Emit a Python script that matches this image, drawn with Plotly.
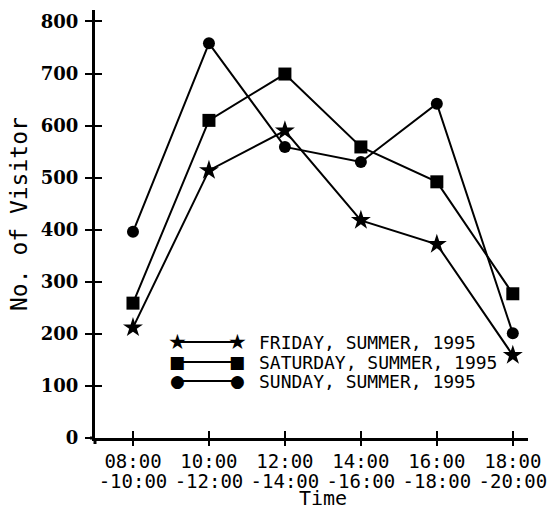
import plotly.graph_objects as go

# ---- data ----
start_times = ["08:00", "10:00", "12:00", "14:00", "16:00", "18:00"]
end_times = ["-10:00", "-12:00", "-14:00", "-16:00", "-18:00", "-20:00"]
categories = [s + e for s, e in zip(start_times, end_times)]

friday = [212, 514, 590, 418, 372, 159]
saturday = [259, 610, 699, 559, 492, 277]
sunday = [396, 758, 559, 530, 642, 201]

series_names = ["FRIDAY, SUMMER, 1995", "SATURDAY, SUMMER, 1995", "SUNDAY, SUMMER, 1995"]
y_ticks = [0, 100, 200, 300, 400, 500, 600, 700, 800]

W, H = 557, 508
L, R, T, B = 95, 29, 10, 70
PW, PH = W - L - R, H - T - B


def px_x(px):
    return (px - L) / PW


def px_y(py):
    return (H - B - py) / PH


fig = go.Figure()

symbols = ["star", "square", "circle"]
sizes = [15, 13, 12]
for name, vals, sym, sz in zip(series_names, [friday, saturday, sunday], symbols, sizes):
    fig.add_trace(go.Scatter(
        x=categories, y=vals, mode="lines+markers", name=name,
        line=dict(color="black", width=2),
        marker=dict(symbol=sym, size=sz, color="black", line=dict(width=0)),
        showlegend=False,
    ))

mono = "DejaVu Sans Mono"
xr = [-0.5, 5.2]
yr = [0, 822]

fig.update_layout(
    width=W, height=H,
    margin=dict(l=L, r=R, t=T, b=B, autoexpand=False),
    paper_bgcolor="white", plot_bgcolor="white",
    showlegend=False,
    xaxis=dict(
        type="category", range=xr, automargin=False,
        tickvals=categories, ticktext=start_times,
        showline=True, linecolor="black", linewidth=3,
        ticks="inside", ticklen=7, tickwidth=2, tickcolor="black",
        showgrid=False, zeroline=False,
        tickfont=dict(family=mono, size=19, color="black"),
        ticklabelstandoff=4,
    ),
    xaxis2=dict(
        overlaying="x", anchor="y", side="bottom", type="linear", range=xr,
        automargin=False,
        tickvals=list(range(len(end_times))), ticktext=end_times,
        ticks="outside", ticklen=7, tickwidth=2, tickcolor="black",
        showline=False, showgrid=False, zeroline=False,
        tickfont=dict(family=mono, size=19, color="black"),
        ticklabelstandoff=19,
    ),
    yaxis=dict(
        range=yr, tickvals=y_ticks, automargin=False,
        showline=True, linecolor="black", linewidth=3,
        ticks="outside", ticklen=7, tickwidth=2, tickcolor="black",
        showgrid=False, zeroline=False,
        tickfont=dict(family="DejaVu Serif", size=18, color="black", weight="bold"),
        ticklabelstandoff=3,
    ),
    yaxis2=dict(
        overlaying="y", anchor="x", side="left", range=yr, tickvals=y_ticks,
        automargin=False,
        ticks="inside", ticklen=7, tickwidth=2, tickcolor="black",
        showticklabels=False, showline=False, showgrid=False, zeroline=False,
    ),
)

# invisible trace to activate secondary axes
fig.add_trace(go.Scatter(x=[None], y=[None], xaxis="x2", yaxis="y2", showlegend=False, hoverinfo="skip"))

annotations = []
shapes = []

# axis titles
annotations.append(dict(text="No. of Visitor", xref="paper", yref="paper",
                        x=px_x(19), y=px_y(214), textangle=-90, showarrow=False,
                        font=dict(family=mono, size=23, color="black"),
                        xanchor="center", yanchor="middle"))
annotations.append(dict(text="Time", xref="paper", yref="paper",
                        x=px_x(323), y=px_y(498), showarrow=False,
                        font=dict(family=mono, size=20, color="black"),
                        xanchor="center", yanchor="middle"))

# axis extensions
shapes.append(dict(type="line", xref="paper", yref="paper", x0=0, x1=0,
                   y0=0, y1=px_y(444), line=dict(color="black", width=3)))
shapes.append(dict(type="line", xref="paper", yref="paper", x0=px_x(90), x1=0,
                   y0=0, y1=0, line=dict(color="black", width=3)))

# custom legend
glyphs = ["\u2605", "\u25A0", "\u25CF"]
glyph_sizes = [21, 17, 17]
rows_y = [342, 362, 381]
for name, g, gs, ry in zip(series_names, glyphs, glyph_sizes, rows_y):
    shapes.append(dict(type="line", xref="paper", yref="paper",
                       x0=px_x(177), x1=px_x(237), y0=px_y(ry), y1=px_y(ry),
                       line=dict(color="black", width=2)))
    for gx in (177, 237):
        annotations.append(dict(text=g, xref="paper", yref="paper",
                                x=px_x(gx), y=px_y(ry), showarrow=False,
                                font=dict(family="DejaVu Sans", size=gs, color="black"),
                                xanchor="center", yanchor="middle"))
    annotations.append(dict(text=name, xref="paper", yref="paper",
                            x=px_x(257), y=px_y(ry), showarrow=False,
                            font=dict(family=mono, size=18, color="black"),
                            xanchor="left", yanchor="middle"))

fig.update_layout(annotations=annotations, shapes=shapes)

fig.write_html("out.html", config={"displayModeBar": False},
               post_script="document.body.style.margin='0px';")
